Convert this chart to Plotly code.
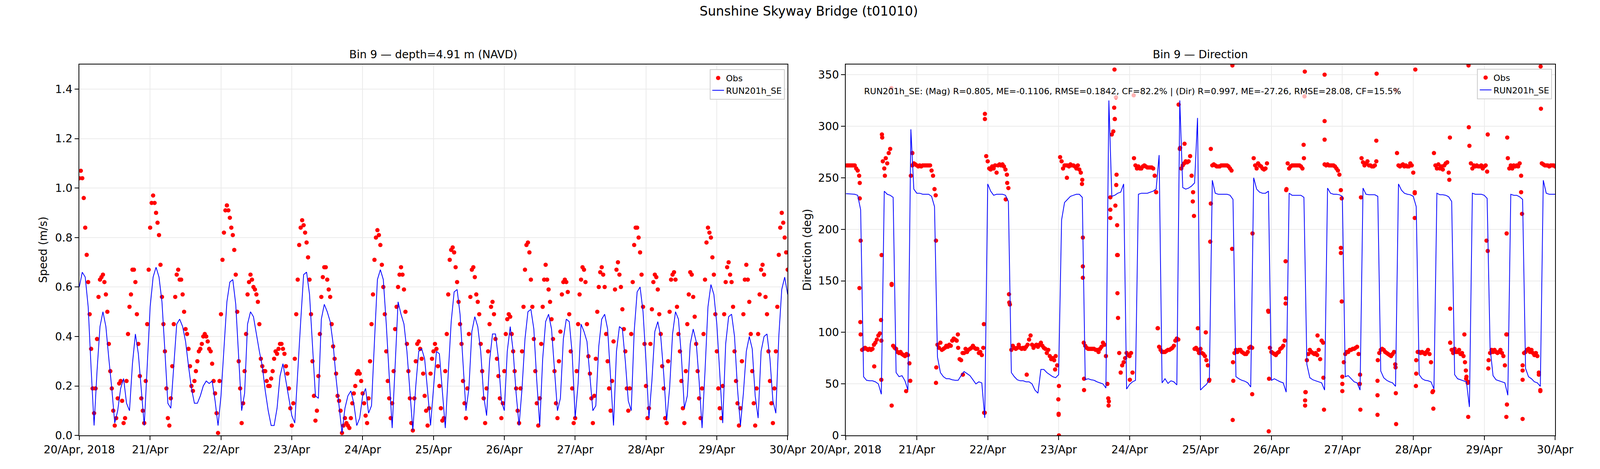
import pandas as pd
import plotly.graph_objs as go

# ---- data ----
start = pd.Timestamp('2018-04-20')

# observed speed (m/s), one value every 30 min
obs_speed = [
    1.04, 1.07, 1.04, 0.96, 0.84, 0.73, 0.62, 0.49, 0.35, 0.19,
    0.09, 0.19, 0.39, 0.56, 0.63, 0.64, 0.65, 0.62, 0.57, 0.50,
    0.37, 0.26, 0.19, 0.10, 0.04, 0.07, 0.15, 0.21, 0.22, 0.14,
    0.05, 0.07, 0.22, 0.41, 0.52, 0.57, 0.67, 0.67, 0.62, 0.49,
    0.37, 0.24, 0.15, 0.10, 0.05, 0.22, 0.45, 0.67, 0.84, 0.94,
    0.97, 0.94, 0.90, 0.86, 0.81, 0.69, 0.56, 0.45, 0.34, 0.19,
    0.07, 0.04, 0.15, 0.28, 0.45, 0.56, 0.65, 0.67, 0.63, 0.63,
    0.57, 0.50, 0.43, 0.41, 0.35, 0.28, 0.20, 0.18, 0.22, 0.26,
    0.30, 0.34, 0.35, 0.37, 0.40, 0.41, 0.40, 0.38, 0.35, 0.34,
    0.29, 0.22, 0.17, 0.09, 0.01, 0.22, 0.49, 0.71, 0.82, 0.91,
    0.93, 0.91, 0.88, 0.84, 0.81, 0.75, 0.65, 0.50, 0.30, 0.19,
    0.05, 0.13, 0.26, 0.41, 0.57, 0.62, 0.65, 0.63, 0.60, 0.59,
    0.57, 0.54, 0.45, 0.31, 0.28, 0.26, 0.26, 0.22, 0.20, 0.20,
    0.23, 0.26, 0.31, 0.34, 0.33, 0.35, 0.37, 0.37, 0.35, 0.33,
    0.28, 0.25, 0.19, 0.11, 0.04, 0.13, 0.31, 0.49, 0.63, 0.77,
    0.84, 0.87, 0.85, 0.82, 0.78, 0.72, 0.63, 0.49, 0.30, 0.16,
    0.06, 0.10, 0.24, 0.41, 0.56, 0.64, 0.68, 0.68, 0.63, 0.59,
    0.56, 0.45, 0.36, 0.31, 0.25, 0.16, 0.14, 0.10, 0.01, 0.04,
    0.07, 0.05, 0.04, 0.03, 0.07, 0.13, 0.17, 0.20, 0.25, 0.26,
    0.25, 0.22, 0.17, 0.13, 0.08, 0.05, 0.15, 0.30, 0.45, 0.57,
    0.71, 0.80, 0.83, 0.81, 0.77, 0.69, 0.60, 0.49, 0.34, 0.22,
    0.15, 0.07, 0.13, 0.26, 0.43, 0.52, 0.60, 0.65, 0.68, 0.65,
    0.59, 0.50, 0.37, 0.26, 0.15, 0.05, 0.02, 0.15, 0.30, 0.37,
    0.38, 0.35, 0.31, 0.25, 0.16, 0.10, 0.04, 0.11, 0.25, 0.31,
    0.34, 0.37, 0.35, 0.28, 0.20, 0.11, 0.06, 0.07, 0.26, 0.41,
    0.57, 0.71, 0.75, 0.76, 0.74, 0.68, 0.62, 0.54, 0.45, 0.37,
    0.22, 0.13, 0.07, 0.19, 0.41, 0.56, 0.67, 0.68, 0.64, 0.57,
    0.54, 0.49, 0.37, 0.26, 0.15, 0.05, 0.19, 0.34, 0.45, 0.52,
    0.54, 0.49, 0.39, 0.31, 0.24, 0.15, 0.07, 0.13, 0.26, 0.41,
    0.47, 0.49, 0.48, 0.41, 0.34, 0.26, 0.19, 0.10, 0.05, 0.19,
    0.34, 0.52, 0.67, 0.77, 0.78, 0.74, 0.63, 0.52, 0.39, 0.26,
    0.13, 0.04, 0.15, 0.37, 0.52, 0.63, 0.69, 0.63, 0.59, 0.54,
    0.47, 0.39, 0.26, 0.13, 0.07, 0.30, 0.42, 0.57, 0.62, 0.63,
    0.62, 0.58, 0.49, 0.34, 0.19, 0.05, 0.07, 0.26, 0.45, 0.57,
    0.63, 0.68, 0.67, 0.62, 0.45, 0.32, 0.25, 0.15, 0.05, 0.16,
    0.31, 0.50, 0.60, 0.66, 0.68, 0.65, 0.60, 0.41, 0.30, 0.19,
    0.10, 0.22, 0.38, 0.59, 0.67, 0.70, 0.65, 0.60, 0.51, 0.43,
    0.34, 0.19, 0.10, 0.19, 0.41, 0.62, 0.77, 0.84, 0.84, 0.80,
    0.74, 0.65, 0.52, 0.37, 0.20, 0.07, 0.11, 0.37, 0.51, 0.62,
    0.65, 0.64, 0.59, 0.49, 0.41, 0.28, 0.19, 0.07, 0.05, 0.30,
    0.50, 0.63, 0.65, 0.66, 0.63, 0.52, 0.41, 0.34, 0.22, 0.11,
    0.05, 0.26, 0.45, 0.57, 0.66, 0.65, 0.56, 0.48, 0.37, 0.26,
    0.15, 0.07, 0.19, 0.41, 0.63, 0.78, 0.84, 0.82, 0.80, 0.72,
    0.65, 0.49, 0.34, 0.19, 0.11, 0.07, 0.20, 0.49, 0.62, 0.68,
    0.70, 0.65, 0.62, 0.52, 0.34, 0.22, 0.13, 0.04, 0.11, 0.30,
    0.49, 0.63, 0.69, 0.63, 0.54, 0.41, 0.26, 0.13, 0.04, 0.19,
    0.41, 0.57, 0.67, 0.69, 0.65, 0.56, 0.49, 0.34, 0.22, 0.13,
    0.05, 0.19, 0.34, 0.52, 0.73, 0.84, 0.90, 0.86, 0.80, 0.74,
    0.67,
]

# modelled speed (m/s), hourly
model_speed = [
    0.60, 0.66, 0.64, 0.52, 0.27, 0.04, 0.26, 0.44, 0.50, 0.44,
    0.31, 0.19, 0.05, 0.10, 0.19, 0.23, 0.13, 0.10, 0.29, 0.41,
    0.33, 0.19, 0.04, 0.28, 0.52, 0.64, 0.68, 0.64, 0.54, 0.34,
    0.13, 0.11, 0.28, 0.45, 0.47, 0.44, 0.38, 0.28, 0.19, 0.13,
    0.13, 0.16, 0.20, 0.22, 0.21, 0.22, 0.14, 0.04, 0.16, 0.35,
    0.54, 0.62, 0.63, 0.53, 0.31, 0.10, 0.17, 0.45, 0.50, 0.48,
    0.41, 0.34, 0.28, 0.18, 0.10, 0.04, 0.04, 0.11, 0.24, 0.29,
    0.22, 0.15, 0.08, 0.05, 0.26, 0.46, 0.65, 0.66, 0.57, 0.37,
    0.16, 0.15, 0.47, 0.53, 0.50, 0.46, 0.37, 0.23, 0.12, 0.01,
    0.11, 0.16, 0.18, 0.13, 0.04, 0.07, 0.16, 0.19, 0.09, 0.12,
    0.38, 0.63, 0.67, 0.63, 0.45, 0.24, 0.03, 0.28, 0.54, 0.49,
    0.45, 0.34, 0.18, 0.02, 0.20, 0.34, 0.35, 0.31, 0.18, 0.04,
    0.19, 0.34, 0.33, 0.18, 0.03, 0.25, 0.46, 0.58, 0.59, 0.49,
    0.29, 0.10, 0.19, 0.42, 0.48, 0.44, 0.34, 0.16, 0.08, 0.30,
    0.41, 0.41, 0.31, 0.14, 0.10, 0.34, 0.44, 0.34, 0.17, 0.04,
    0.19, 0.39, 0.50, 0.51, 0.43, 0.22, 0.04, 0.31, 0.46, 0.49,
    0.43, 0.26, 0.10, 0.15, 0.39, 0.47, 0.46, 0.33, 0.07, 0.21,
    0.45, 0.42, 0.38, 0.24, 0.10, 0.12, 0.36, 0.47, 0.49, 0.43,
    0.23, 0.04, 0.34, 0.44, 0.43, 0.30, 0.14, 0.10, 0.42, 0.58,
    0.60, 0.50, 0.30, 0.07, 0.22, 0.42, 0.46, 0.40, 0.25, 0.06,
    0.19, 0.41, 0.50, 0.47, 0.32, 0.11, 0.16, 0.37, 0.43, 0.38,
    0.22, 0.03, 0.26, 0.52, 0.61, 0.57, 0.45, 0.25, 0.05, 0.37,
    0.48, 0.49, 0.40, 0.19, 0.04, 0.17, 0.34, 0.40, 0.35, 0.16,
    0.07, 0.34, 0.40, 0.41, 0.31, 0.14, 0.09, 0.40, 0.59, 0.64,
    0.57,
]

# observed direction (deg), one value every 30 min
obs_dir = [
    262, 262, 262, 262, 262, 262, 262, 259, 257, 252,
    189, 83, 84, 85, 84, 83, 84, 83, 84, 88,
    90, 93, 97, 99, 92, 266, 259, 269, 264, 274,
    278, 146, 87, 85, 84, 81, 80, 81, 79, 78,
    77, 79, 78, 70, 252, 262, 264, 263, 262, 261,
    262, 261, 262, 262, 262, 262, 262, 262, 257, 252,
    239, 189, 88, 85, 90, 83, 84, 85, 87, 86,
    88, 87, 92, 94, 93, 92, 85, 74, 73, 80,
    80, 84, 81, 83, 84, 85, 87, 85, 84, 84,
    80, 81, 78, 85, 22, 271, 266, 259, 258, 261,
    259, 262, 255, 262, 263, 262, 263, 261, 258, 253,
    240, 127, 83, 87, 85, 84, 85, 88, 85, 84,
    85, 84, 86, 88, 93, 97, 88, 85, 87, 88,
    86, 88, 90, 87, 85, 84, 80, 83, 77, 74,
    75, 73, 77, 68, 21, 270, 266, 259, 262, 262,
    262, 261, 263, 262, 262, 261, 259, 262, 258, 255,
    248, 90, 87, 85, 84, 84, 84, 84, 84, 83,
    83, 81, 84, 86, 90, 88, 77, 50, 33, 231,
    292, 295, 307, 243, 175, 80, 61, 68, 71, 75,
    80, 78, 77, 80, 61, 269, 262, 259, 261, 259,
    259, 261, 262, 261, 260, 260, 260, 260, 259, 252,
    236, 104, 86, 83, 81, 81, 81, 82, 83, 83,
    84, 85, 87, 92, 94, 93, 278, 259, 262, 264,
    266, 265, 266, 271, 252, 236, 84, 85, 83, 80,
    84, 80, 79, 77, 73, 68, 54, 278, 262, 263,
    262, 261, 261, 261, 262, 262, 262, 262, 262, 261,
    259, 257, 71, 80, 83, 81, 83, 83, 81, 80,
    79, 79, 81, 85, 86, 85, 269, 262, 259, 264,
    262, 261, 259, 258, 259, 264, 120, 85, 81, 80,
    79, 78, 80, 81, 84, 85, 87, 92, 238, 264,
    259, 261, 262, 262, 262, 262, 262, 262, 261, 259,
    269, 42, 73, 79, 83, 81, 80, 79, 80, 78,
    83, 74, 92, 90, 263, 262, 263, 262, 262, 262,
    262, 261, 259, 257, 253, 238, 57, 71, 79, 81,
    81, 83, 83, 84, 84, 85, 86, 79, 59, 269,
    265, 262, 264, 266, 262, 262, 261, 261, 262, 266,
    73, 80, 83, 84, 83, 81, 80, 79, 78, 77,
    79, 81, 66, 274, 262, 261, 262, 263, 261, 262,
    261, 261, 264, 262, 255, 236, 73, 81, 81, 80,
    81, 80, 79, 81, 83, 79, 71, 42, 274, 262,
    259, 263, 259, 261, 258, 262, 264, 265, 255, 90,
    83, 80, 84, 81, 81, 83, 79, 80, 77, 71,
    57, 52, 281, 264, 259, 262, 261, 262, 261, 261,
    262, 259, 261, 262, 256, 73, 80, 83, 81, 83,
    81, 80, 81, 83, 80, 77, 68, 98, 269, 259,
    262, 259, 262, 261, 262, 261, 264, 252, 68, 80,
    81, 83, 84, 81, 83, 80, 78, 80, 77, 59,
    44, 264, 263, 262, 262, 262, 261, 262, 262, 262,
    261,
]

# scattered direction observations during the turns of the tide
extra_dir_hours = [
    15.4, 47.05, 47.05, 4.6, 4.9, 5.0, 4.7, 4.7, 15.5, 15.5, 12.1, 12.0,
    9.6, 11.9, 46.7, 46.8, 55.2, 55.3, 30.5, 30.6, 30.4, 70.8, 61.2, 39.6,
    72.0, 71.9, 72.1, 72.1, 80.2, 80.2, 80.2, 80.6, 80.6, 54.1, 20.4, 21.8,
    74.8, 12.2, 12.3, 13.2, 79.9, 37.9, 54.6, 22.5,
    90.9, 91.4, 97.4, 90.8, 91.0, 91.6, 91.2, 91.8, 91.8, 91.9, 92.1, 88.9,
    88.8, 89.5, 89.5, 96.1, 105.6, 112.6, 113.1, 114.6, 117.8, 117.4, 119.1,
    121.8, 122.9, 123.3, 123.5, 130.8, 130.7, 130.9, 131.1, 137.5, 137.6,
    142.9, 143.1, 143.2, 148.8, 148.9, 148.8, 149.1, 155.3, 155.2, 154.9,
    155.6, 155.4, 155.4, 162.0, 162.0, 162.0, 161.8, 159.6, 161.6,
    179.6, 179.5, 192.7, 186.2, 210.7, 210.8, 217.2, 223.8, 235.1, 235.2,
    204.4, 167.8, 167.5, 167.5, 167.8, 168.0, 168.0, 174.1, 173.9, 174.3,
    179.9, 179.9, 179.9, 186.1, 186.2, 185.9, 192.5, 192.5, 192.9, 193.0,
    198.7, 198.8, 204.5, 204.5, 204.2, 210.6, 210.4, 216.8, 217.2, 217.4,
    223.6, 223.7, 223.7, 223.5, 228.5, 228.8, 229.0, 229.0, 229.0, 234.5,
    235.0, 209.3, 209.8, 209.9,
]
extra_dir_deg = [
    337, 312, 307, 143, 110, 98, 230, 245, 29, 147, 175, 54,
    67, 112, 108, 22, 137, 129, 51, 66, 233, 64, 59, 59,
    20, 35, 0, 48, 192, 164, 153, 55, 44, 229, 43, 53,
    250, 292, 289, 252, 244, 98, 245, 274,
    355, 328, 330, 318, 307, 253, 223, 204, 175, 138, 114, 29,
    36, 211, 219, 54, 104, 321, 279, 283, 213, 227, 104,
    100, 53, 188, 225, 359, 181, 15, 53, 40, 196,
    121, 4, 55, 169, 133, 128, 239, 353, 329, 282,
    42, 34, 29, 350, 305, 287, 25, 97, 56,
    351, 286, 355, 335, 359, 299, 292, 289, 358, 317,
    289, 230, 182, 177, 130, 50, 43, 25, 50, 231,
    39, 20, 53, 41, 11, 69, 211, 235, 48, 60,
    43, 26, 123, 90, 248, 18, 51, 189, 179, 65,
    196, 98, 30, 18, 236, 215, 16, 54, 63, 61,
    43, 98, 63, 55,
]

# modelled direction (deg), hourly
model_dir = [
    234.6, 234.4, 234.2, 234, 233, 219, 57, 53.5, 53, 53,
    52, 50, 40, 237, 234, 233, 231, 61, 57, 58,
    53, 44, 297, 239, 235, 235, 234, 234, 234, 232,
    222, 76, 61, 57, 55, 55, 54, 53.5, 53.5, 58,
    62, 60, 58, 54, 50, 52, 51, 17, 244, 237,
    233, 234, 234, 234, 233, 227, 61, 57, 54, 53,
    53, 52, 52, 50, 44, 41, 64, 64, 61, 59,
    57, 56, 59, 209, 226, 229, 232, 233, 234, 234,
    231, 54, 55, 54, 53.5, 52, 51, 50, 46, 325,
    232, 233, 235, 236, 244, 45, 49.5, 52, 53.5, 234,
    235, 235, 235, 236, 237, 239, 272, 51, 55, 50.5,
    53, 52, 49, 325, 240.5, 239, 240, 242, 245, 308,
    44, 47, 49.5, 54, 247.6, 235, 234, 234, 234, 234,
    233, 229, 57, 55, 53.5, 52.6, 51, 47, 250, 239,
    236, 235, 235, 237, 53.5, 55, 53.5, 52, 51, 42,
    235, 233, 233, 233, 233, 231, 69, 56, 54, 53,
    52, 51, 44, 240, 235, 234, 234, 233.5, 232, 57,
    58, 55, 52, 51, 44, 240, 234, 233.5, 233.5, 233.5,
    232, 62.5, 56, 53.5, 52, 51, 47.6, 244, 238, 235,
    234, 233.5, 232, 222, 59, 55, 53.5, 53, 52, 45,
    235, 233.5, 233.5, 233, 231.5, 227, 59, 55, 54, 53,
    52, 27.6, 235, 234, 234, 234, 233, 230, 85, 58,
    54, 53, 52, 51, 39, 234, 233, 233, 231.5, 229,
    65, 57, 55, 52, 51, 47.6, 247.6, 235, 234, 234,
    234,
]

day_ticks = pd.date_range('2018-04-20', '2018-04-30', freq='D')
day_labels = ['20/Apr, 2018', '21/Apr', '22/Apr', '23/Apr', '24/Apr', '25/Apr',
              '26/Apr', '27/Apr', '28/Apr', '29/Apr', '30/Apr']

stats_text = ('RUN201h_SE: (Mag) R=0.805, ME=-0.1106, RMSE=0.1842, CF=82.2% | '
              '(Dir) R=0.997, ME=-27.26, RMSE=28.08, CF=15.5%')

# ---- time stamps ----
t_obs = pd.date_range(start, periods=len(obs_speed), freq='30min')
t_mod = pd.date_range(start, periods=len(model_speed), freq='h')
t_obs_dir = pd.date_range(start, periods=len(obs_dir), freq='30min')
t_mod_dir = pd.date_range(start, periods=len(model_dir), freq='h')
t_extra = start + pd.to_timedelta(extra_dir_hours, unit='h')

t_dir_all = list(t_obs_dir) + list(t_extra)
dir_all = obs_dir + extra_dir_deg

# layout measured on the 5000x1200 reference; width follows the window
W, H = 5000, 1200
FONT = 'DejaVu Sans'
x1_dom = [132 / W, 2432 / W]
x2_dom = [2621 / W, 4924 / W]


def py(y):
    return 1 - y / H


obs_style = dict(mode='markers', name='Obs',
                 marker=dict(color='#ff0000', size=11, line=dict(width=0)))
mod_style = dict(mode='lines', name='RUN201h_SE',
                 line=dict(color='#0000ff', width=2))

data = [
    go.Scatter(x=t_obs, y=obs_speed, xaxis='x', yaxis='y', legend='legend', **obs_style),
    go.Scatter(x=t_mod, y=model_speed, xaxis='x', yaxis='y', legend='legend', **mod_style),
    go.Scatter(x=t_dir_all, y=dir_all, xaxis='x2', yaxis='y2', legend='legend2', **obs_style),
    go.Scatter(x=t_mod_dir, y=model_dir, xaxis='x2', yaxis='y2', legend='legend2', **mod_style),
]

axis_common = dict(showline=True, mirror=True, linecolor='black', linewidth=2,
                   ticks='outside', ticklen=10, tickwidth=2, tickcolor='black',
                   showgrid=True, gridcolor='#ebebeb', gridwidth=2, zeroline=False,
                   tickfont=dict(family=FONT, size=28, color='black'))

xaxis_common = dict(axis_common, range=[day_ticks[0], day_ticks[-1]],
                    tickmode='array', tickvals=list(day_ticks), ticktext=day_labels)

legend_common = dict(font=dict(family=FONT, size=22, color='black'),
                     bgcolor='white', bordercolor='#cccccc', borderwidth=2,
                     xanchor='right', yanchor='top', tracegroupgap=0)

y_dom = [py(1122), py(159)]

layout = go.Layout(
    height=H, autosize=True,
    margin=dict(l=0, r=0, t=0, b=0),
    paper_bgcolor='white', plot_bgcolor='white',
    font=dict(family=FONT, color='black'),
    xaxis=dict(xaxis_common, domain=x1_dom, anchor='y'),
    yaxis=dict(axis_common, domain=y_dom, range=[0, 1.5], dtick=0.2,
               tickformat='.1f', anchor='x'),
    xaxis2=dict(xaxis_common, domain=x2_dom, anchor='y2'),
    yaxis2=dict(axis_common, domain=y_dom, range=[0, 360], dtick=50, anchor='x2'),
    legend=dict(legend_common, x=x1_dom[1] - 0.002, y=py(171)),
    legend2=dict(legend_common, x=x2_dom[1] - 0.002, y=py(170)),
    showlegend=True,
    annotations=[
        dict(text='Sunshine Skyway Bridge (t01010)', x=0.5, y=py(21),
             font=dict(family=FONT, size=33)),
        dict(text='Bin 9 \u2014 depth=4.91 m (NAVD)', x=sum(x1_dom) / 2, y=py(133),
             font=dict(family=FONT, size=28)),
        dict(text='Bin 9 \u2014 Direction', x=sum(x2_dom) / 2, y=py(133),
             font=dict(family=FONT, size=28)),
        dict(text='Speed (m/s)', x=x1_dom[0], xshift=-92, y=py(640), textangle=-90,
             font=dict(family=FONT, size=28)),
        dict(text='Direction (deg)', x=x2_dom[0], xshift=-98, y=py(640), textangle=-90,
             font=dict(family=FONT, size=28)),
        dict(text=stats_text, x=x2_dom[0], xshift=40, y=py(229), xanchor='left',
             bgcolor='rgba(255,255,255,0.7)', borderpad=6,
             font=dict(family=FONT, size=22)),
    ],
)
for a in layout.annotations:
    a.xref = 'paper'
    a.yref = 'paper'
    a.showarrow = False
    a.yanchor = 'middle'
    if a.xanchor is None:
        a.xanchor = 'center'

fig = go.Figure(data=data, layout=layout)
fig.write_html('out.html')
